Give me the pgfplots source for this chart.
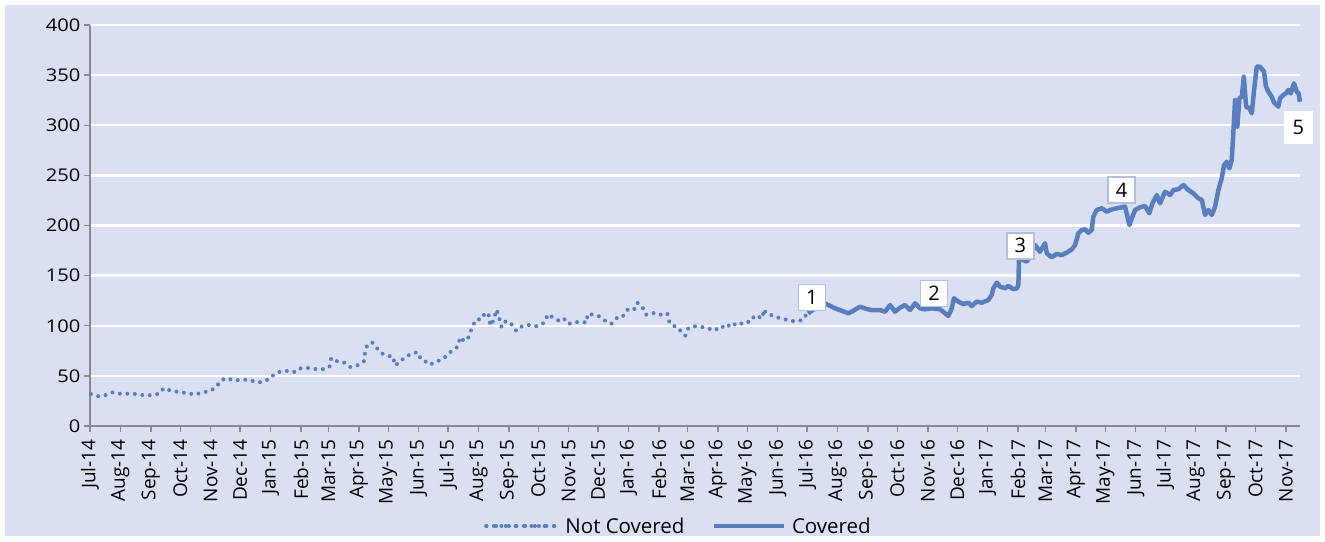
\documentclass[border=0pt]{standalone}
\usepackage{pgfplots}
\pgfplotsset{compat=1.18}
\usepackage{fontspec}
\setmainfont{Open Sans}
\newfontfamily\ytfont{Open Sans}[FakeStretch=1.15]
\definecolor{bgcol}{RGB}{218,224,241}
\definecolor{linecol}{RGB}{89,125,189}
\definecolor{axgray}{RGB}{137,137,137}
\definecolor{boxcol}{RGB}{178,192,222}
\begin{document}
\begin{tikzpicture}[x=1pt,y=1pt]
\fill[white] (0,0) rectangle (1325,541);
\fill[bgcol] (5,5) rectangle (1320,536);
\begin{axis}[
  at={(90pt,115pt)}, anchor=south west,
  scale only axis, width=1210pt, height=401pt,
  xmin=0, xmax=1233.4, ymin=0, ymax=400, clip=false,
  axis x line*=bottom, axis y line*=left,
  axis line style={-, draw=axgray, line width=1.6pt},
  tick style={draw=axgray, line width=1.4pt},
  major tick length=6pt, tick align=outside,
  ytick={50,100,...,400},
  extra y ticks={0}, extra y tick style={grid=none},
  ymajorgrids, major grid style={white, line width=2.4pt},
  xtick={0,31,62,92,123,153,184,215,243,274,304,335,365,396,427,457,488,518,549,580,609,640,670,701,731,762,793,823,854,884,915,946,974,1005,1035,1066,1096,1127,1158,1188,1219},
  xticklabels={Jul-14,Aug-14,Sep-14,Oct-14,Nov-14,Dec-14,Jan-15,Feb-15,Mar-15,Apr-15,May-15,Jun-15,Jul-15,Aug-15,Sep-15,Oct-15,Nov-15,Dec-15,Jan-16,Feb-16,Mar-16,Apr-16,May-16,Jun-16,Jul-16,Aug-16,Sep-16,Oct-16,Nov-16,Dec-16,Jan-17,Feb-17,Mar-17,Apr-17,May-17,Jun-17,Jul-17,Aug-17,Sep-17,Oct-17,Nov-17},
  /pgf/number format/assume math mode=true,
  every tick label/.append style={text=black},
  xticklabel style={rotate=90, anchor=east, font=\fontsize{19}{21}\selectfont},
  xticklabel shift=4pt,
  yticklabel style={anchor=east, font=\ytfont\fontsize{17.5}{20}\selectfont},
  extra y tick style={yticklabel style={font=\ytfont\fontsize{17.5}{20}\selectfont}},
  legend style={at={(0.4864,-0.2494)}, anchor=center, draw=none, fill=none,
    font=\fontsize{20.5}{23}\selectfont, legend columns=2,
    /tikz/every even column/.append style={column sep=25pt}},
  legend image code/.code={\draw[#1] (0pt,0pt) -- (70pt,0pt); \path (74pt,0pt);},
]
\addplot[linecol, line width=4pt, line cap=round, dash pattern=on 0pt off 7.5pt,
  legend image code/.code={\draw[linecol, line width=4pt, line cap=round, dash pattern=on 0pt off 9.7pt] (0pt,0pt) -- (68pt,0pt); \path (0pt,0pt) -- (75pt,0pt);}] table {
1.0 31.9
8.8 29.6
16.4 30.9
22.8 33.6
30.6 32.2
38.4 32.2
46.6 31.9
55.1 30.6
63.9 30.9
70.3 32.2
75.5 37.9
82.3 35.2
90.4 33.9
99.1 32.9
107.1 31.2
114.5 33.6
122.3 34.6
128.7 39.2
133.3 44.9
138.4 47.9
146.5 45.6
154.2 45.9
160.8 46.2
168.5 44.2
174.6 43.6
182.7 46.9
188.6 52.2
192.7 53.9
200.8 54.9
208.6 53.9
212.7 57.2
219.9 58.2
228.7 56.9
236.8 56.6
244.1 58.9
245.9 67.8
252.1 64.5
258.2 63.8
265.3 58.9
272.4 60.5
279.3 64.8
280.4 73.5
282.4 80.1
287.5 83.5
292.9 77.1
298.3 72.1
302.7 70.1
309.2 69.1
310.6 60.5
315.3 63.1
321.4 69.1
328.5 72.1
333.7 73.8
337.1 67.1
341.5 64.8
346.0 61.1
353.0 64.1
360.8 67.5
365.7 72.5
370.8 76.1
375.1 79.5
377.2 88.5
381.9 84.5
385.6 88.1
388.0 94.5
390.4 100.1
393.2 106.0
399.6 106.7
401.9 111.7
406.0 112.7
407.4 103.7
409.1 100.1
412.1 108.0
414.5 116.0
417.2 107.4
419.6 98.5
423.8 104.7
429.5 101.7
434.6 94.8
440.7 99.8
447.2 100.7
454.4 99.5
459.0 100.7
463.8 103.7
466.6 111.4
472.9 107.7
479.9 104.0
484.2 106.7
488.3 102.0
494.4 103.5
501.8 104.0
506.0 103.0
507.4 112.0
514.5 110.7
520.2 109.0
526.3 104.0
531.4 102.0
537.0 107.7
542.6 108.4
546.4 114.7
550.5 117.7
555.2 116.7
557.9 123.0
563.4 118.0
566.8 111.0
569.9 112.4
576.3 112.7
582.1 111.0
588.5 112.4
590.5 104.0
594.6 102.0
595.7 99.8
597.7 96.8
602.2 95.1
606.8 90.1
609.9 97.5
614.4 99.5
622.2 99.1
630.7 97.1
637.1 95.4
642.5 99.8
649.0 97.5
653.1 102.7
660.9 100.1
666.7 104.0
672.8 103.7
677.9 110.4
685.4 107.4
686.8 116.4
689.4 112.0
695.5 110.4
702.6 107.7
708.4 106.4
714.9 104.7
720.7 104.7
726.5 105.7
730.9 112.4
};
\addlegendentry{Not Covered}
\addplot[linecol, line width=4.5pt, line join=round] table {
731.9 112.4
740.1 118
750.3 121.7
756.1 119
761.1 116.7
766.3 115
773.0 112.4
778.1 115
784.9 119
791.7 116.7
796.9 115.7
805.3 115.7
810.4 114
815.5 120.7
820.6 114
825.7 118
830.8 120.7
835.9 115.7
841.0 122.4
846.1 117.4
851.1 116.4
857.9 117.4
866.5 116.4
871.6 112.4
874.9 109.7
878.4 117.4
880.7 127.4
885.2 124
890.2 121.7
895.3 123
898.8 119.7
903.8 124
909.0 123
915.7 125.7
919.2 130.7
920.8 137.4
924.3 143
927.6 139
932.7 137.4
936.1 139.7
941.2 136.4
944.7 137.4
946.3 140.6
947.2 176
950.5 166
954.8 164
958.2 169
963.3 180.5
968.3 173.9
973.5 182.2
975.3 172.3
980.3 168.3
985.4 171.6
990.5 170.6
995.6 172.9
1000.8 176.3
1004.1 180.5
1007.5 192.2
1010.9 195.5
1014.3 196.2
1017.6 192.8
1021.1 195.5
1022.7 208.8
1026.2 215.5
1031.3 217.2
1036.4 213.8
1039.8 215.5
1046.6 217.2
1055.1 218.8
1057.5 208.8
1059.5 200.5
1061.9 207.2
1065.3 215.5
1070.3 218.2
1075.4 219.5
1079.8 212.2
1083.2 222.7
1087.4 230.4
1090.7 222.1
1095.8 233.7
1100.9 230.4
1104.3 235.4
1109.3 236.1
1114.5 240.4
1119.6 235.4
1124.7 232.1
1129.8 227.1
1133.3 225.4
1136.6 210.5
1140.0 215.5
1143.5 210.5
1146.8 218.8
1150.2 235.4
1153.6 247.1
1156.0 260.3
1158.7 263.6
1161.4 257
1163.8 265.3
1165.4 292
1167.2 325.2
1169.5 298.6
1171.6 326.9
1174.1 328.5
1176.1 348.4
1178.5 318.5
1181.8 316.9
1184.3 311.9
1186.6 335.2
1189.3 358.4
1192.7 358.4
1196.7 353.4
1198.7 338.5
1201.2 333.5
1204.6 328.5
1207.0 322.5
1211.3 318.5
1213.1 326.9
1216.4 330.2
1219.1 331.8
1221.5 335.2
1223.9 331.8
1227.2 341.8
1230.1 333.5
1232.0 331.8
1233.3 323.5
};
\addlegendentry{Covered}
\begin{scope}[every node/.style={fill=white, draw=boxcol, line width=1.5pt, minimum width=27pt, minimum height=26pt, inner sep=0pt, font=\fontsize{20}{22}\selectfont}]
\node at (axis cs:735.8,128.0) {1};
\node at (axis cs:860.3,132.0) {2};
\node at (axis cs:948.3,179.8) {3};
\node at (axis cs:1051.6,235.2) {4};
\node[draw=none, minimum width=29pt, minimum height=33pt] at (axis cs:1231.7,297.7) {5};
\end{scope}
\end{axis}
\pgfresetboundingbox
\useasboundingbox (0,0) rectangle (1325,541);
\end{tikzpicture}
\end{document}
